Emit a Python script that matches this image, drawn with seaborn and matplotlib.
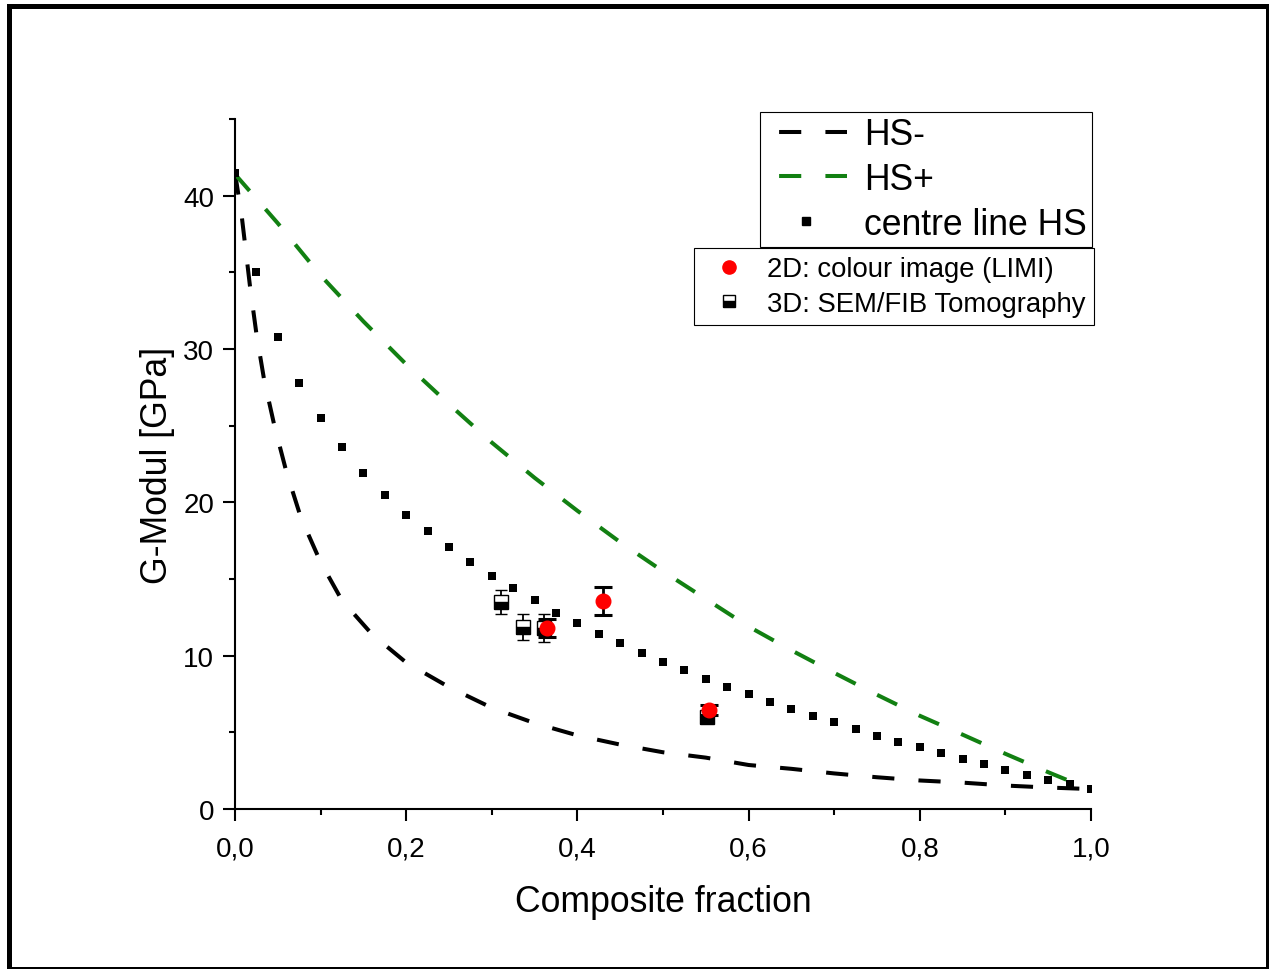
import matplotlib
matplotlib.use("Agg")
import matplotlib.pyplot as plt
from matplotlib.lines import Line2D
from matplotlib.patches import Rectangle
from matplotlib.ticker import MultipleLocator, FuncFormatter
import pandas as pd
import seaborn as sns

# Hashin-Shtrikman lower bound (HS-)
hs_lower_x = [0.0, 0.008, 0.0175, 0.025, 0.034, 0.046, 0.06, 0.077, 0.1, 0.125,
              0.16, 0.2, 0.25, 0.3, 0.35, 0.4, 0.45, 0.5, 0.55, 0.6, 0.65, 0.7,
              0.75, 0.8, 0.85, 0.9, 0.95, 1.0]
hs_lower_g = [41.5, 38.6, 34.1, 31.0, 28.0, 25.0, 22.0, 19.0, 16.1, 13.6,
              11.4, 9.55, 7.95, 6.6, 5.6, 4.8, 4.2, 3.7, 3.35, 2.87, 2.62, 2.32,
              2.07, 1.86, 1.72, 1.53, 1.4, 1.3]

# Hashin-Shtrikman upper bound (HS+)
hs_upper_x = [0.0, 0.05, 0.1, 0.15, 0.2, 0.25, 0.3, 0.35, 0.4, 0.45, 0.5,
              0.55, 0.6, 0.65, 0.7, 0.75, 0.8, 0.85, 0.9, 0.95, 1.0]
hs_upper_g = [41.4, 38.2, 34.8, 31.8, 29.0, 26.4, 23.9, 21.6, 19.45, 17.4, 15.5,
              13.7, 11.9, 10.35, 8.88, 7.45, 6.08, 4.85, 3.6, 2.4, 1.25]

# centre line between the two bounds
centre_x = [i * 0.025 for i in range(41)]
centre_g = [41.5, 35.0, 30.8, 27.8, 25.5, 23.6, 21.9, 20.5, 19.2, 18.1,
            17.07, 16.1, 15.2, 14.4, 13.6, 12.8, 12.1, 11.4, 10.8, 10.2,
            9.6, 9.05, 8.48, 7.98, 7.48, 6.98, 6.52, 6.04, 5.65, 5.2,
            4.78, 4.39, 4.04, 3.65, 3.26, 2.94, 2.54, 2.2, 1.9, 1.63, 1.3]

# measured shear moduli
limi_x = [0.365, 0.430, 0.554]
limi_g = [11.8, 13.55, 6.45]
limi_err = [0.6, 0.9, 0.35]

sem_x = [0.311, 0.336, 0.361, 0.551]
sem_g = [13.5, 11.85, 11.8, 6.0]
sem_err = [0.8, 0.85, 0.9, 0.3]

labels_bounds = ["HS-", "HS+", "centre line HS"]
labels_meas = ["2D: colour image (LIMI)", "3D: SEM/FIB Tomography"]

GREEN = "#128012"
RED = "#ff0000"

sns.set_style("ticks")
plt.rcParams["font.family"] = ["Liberation Sans", "DejaVu Sans"]
plt.rcParams.update({"text.color": "black", "axes.labelcolor": "black",
                     "xtick.color": "black", "ytick.color": "black",
                     "axes.edgecolor": "black"})

W, H = 1269, 970
fig = plt.figure(figsize=(W / 100, H / 100), dpi=100)
ax = fig.add_axes([235 / W, 1 - 810 / H, (1091 - 235) / W, 690 / H])

lw = 2.9
dash = (0, (5.5, 6))
sns.lineplot(data=pd.DataFrame({"x": hs_lower_x, "g": hs_lower_g}), x="x", y="g",
             ax=ax, color="black", lw=lw, linestyle=dash, sort=False)
sns.lineplot(data=pd.DataFrame({"x": hs_upper_x, "g": hs_upper_g}), x="x", y="g",
             ax=ax, color=GREEN, lw=lw, linestyle=dash, sort=False)
sns.scatterplot(data=pd.DataFrame({"x": centre_x, "g": centre_g}), x="x", y="g",
                ax=ax, marker="s", s=34, color="black", linewidth=0, zorder=3)

ax.errorbar(sem_x, sem_g, yerr=sem_err, fmt="s", ms=9.5, mfc="black",
            mfcalt="white", fillstyle="bottom", mec="black", mew=1.0,
            ecolor="black", elinewidth=1.3, capsize=4.6, capthick=1.3, zorder=4)
ax.errorbar(limi_x, limi_g, yerr=limi_err, fmt="o", ms=10.5, mfc=RED, mec=RED,
            ecolor="black", elinewidth=2.0, capsize=6.4, capthick=2.2, zorder=5)

ax.set_xlim(0, 1.0)
ax.set_ylim(0, 45)
ax.xaxis.set_major_locator(MultipleLocator(0.2))
ax.xaxis.set_minor_locator(MultipleLocator(0.1))
ax.yaxis.set_major_locator(MultipleLocator(10))
ax.yaxis.set_minor_locator(MultipleLocator(5))
ax.xaxis.set_major_formatter(FuncFormatter(lambda v, p: f"{v:.1f}".replace(".", ",")))
ax.yaxis.set_major_formatter(FuncFormatter(lambda v, p: f"{v:.0f}"))

for side in ("top", "right"):
    ax.spines[side].set_visible(False)
for side in ("left", "bottom"):
    ax.spines[side].set_linewidth(1.5)
    ax.spines[side].set_color("black")
ax.tick_params(which="major", direction="out", length=8.6, width=1.5,
               labelsize=20, colors="black", labelcolor="black")
ax.tick_params(axis="x", which="major", pad=10.5)
ax.tick_params(axis="y", which="major", pad=6.5)
ax.tick_params(which="minor", direction="out", length=4.3, width=1.5, colors="black")

ax.set_xlabel("Composite fraction", fontsize=25.7, labelpad=16, color="black")
ax.set_ylabel("G-Modul [GPa]", fontsize=25.7, labelpad=6, color="black")

# legend for the bound curves
h_bounds = [
    Line2D([], [], color="black", lw=lw, linestyle=(8.0, (5.5, 6))),
    Line2D([], [], color=GREEN, lw=lw, linestyle=(8.0, (5.5, 6))),
    Line2D([], [], color="black", marker="s", ms=5.8, linestyle="none"),
]
leg1 = ax.legend(h_bounds, labels_bounds, loc="upper right",
                 bbox_to_anchor=(1092 / W, 1 - 113 / H), bbox_transform=fig.transFigure,
                 fontsize=25.6, frameon=True, fancybox=False, framealpha=1,
                 edgecolor="black", borderaxespad=0, borderpad=0.15,
                 labelspacing=0.27, handlelength=2.3, handletextpad=0.48)
leg1.get_frame().set_linewidth(0.8)
for t in leg1.get_texts():
    t.set_color("black")
ax.add_artist(leg1)

# legend for the measurements
h_meas = [
    Line2D([], [], color=RED, marker="o", ms=9.5, linestyle="none"),
    Line2D([], [], color="black", marker="s", ms=8.5, mfc="black", mfcalt="white",
           fillstyle="bottom", mec="black", mew=1.0, linestyle="none"),
]
leg2 = ax.legend(h_meas, labels_meas, loc="upper right",
                 bbox_to_anchor=(1094 / W, 1 - 249 / H), bbox_transform=fig.transFigure,
                 fontsize=19.8, frameon=True, fancybox=False, framealpha=1,
                 edgecolor="black", borderaxespad=0, borderpad=0.3,
                 labelspacing=0.3, handlelength=1.95, handletextpad=0.4)
leg2.get_frame().set_linewidth(0.8)
for t in leg2.get_texts():
    t.set_color("black")

# outer frame around the figure
fig.patches.append(Rectangle((9.2 / W, 0.0 / H), (1267.5 - 9.2) / W, (970 - 6.7) / H,
                             transform=fig.transFigure, fill=False, lw=3.6,
                             ec="black", clip_on=False))

fig.savefig("out.png", dpi=100)
